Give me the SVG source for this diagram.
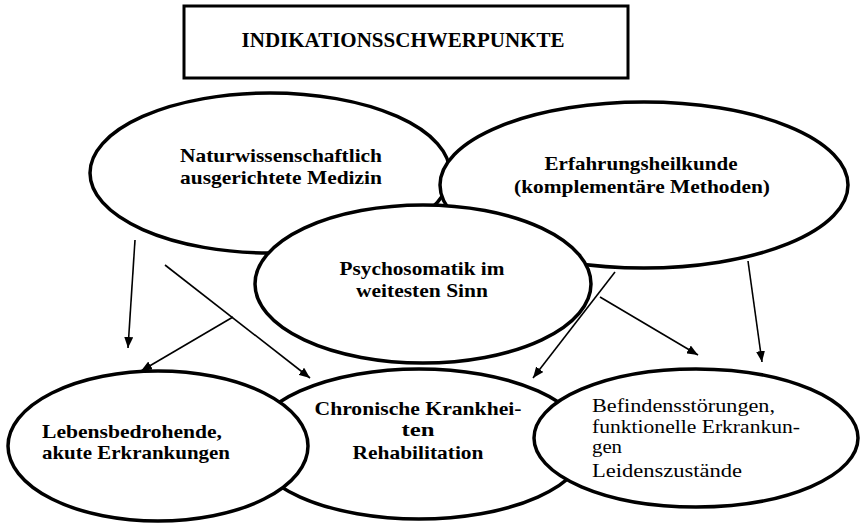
<svg xmlns="http://www.w3.org/2000/svg" width="862" height="524" viewBox="0 0 862 524">
<style>
.bg{fill:#ffffff}
.node{fill:#ffffff;stroke:#000000;stroke-width:3.5}
.box{fill:#ffffff;stroke:#000000;stroke-width:3}
.t{font-family:"Liberation Serif","Times New Roman",serif;font-size:19px;fill:#000000}
.h{font-size:21px}
.b{font-weight:bold}
.c{text-anchor:middle}
.conn{fill:none;stroke:#000000;stroke-width:1.6;marker-end:url(#ah)}
</style>
<defs>
<marker id="ah" markerUnits="userSpaceOnUse" markerWidth="11" markerHeight="9" refX="11" refY="4.5" orient="auto">
<path d="M0,0 L11,4.5 L0,9 z" fill="#000000"/>
</marker>
</defs>
<rect class="bg" x="0" y="0" width="862" height="524"/>
<g id="title">
<rect class="box" x="184" y="6" width="444" height="72"/>
<text class="t h b c" x="403" y="47">INDIKATIONSSCHWERPUNKTE</text>
</g>
<g id="naturwissenschaftlich">
<ellipse class="node" cx="270" cy="173" rx="180" ry="80"/>
<text class="t b c" x="281" y="162" textLength="202" lengthAdjust="spacingAndGlyphs">Naturwissenschaftlich</text>
<text class="t b c" x="281" y="184" textLength="202" lengthAdjust="spacingAndGlyphs">ausgerichtete Medizin</text>
</g>
<g id="erfahrungsheilkunde">
<ellipse class="node" cx="644" cy="185" rx="204" ry="83"/>
<text class="t b c" x="641" y="170" textLength="193" lengthAdjust="spacingAndGlyphs">Erfahrungsheilkunde</text>
<text class="t b c" x="642" y="193" textLength="256" lengthAdjust="spacingAndGlyphs">(komplementäre Methoden)</text>
</g>
<g id="psychosomatik">
<ellipse class="node" cx="423" cy="284" rx="168" ry="79"/>
<text class="t b c" x="422" y="275" textLength="165" lengthAdjust="spacingAndGlyphs">Psychosomatik im</text>
<text class="t b c" x="422" y="297" textLength="132" lengthAdjust="spacingAndGlyphs">weitesten Sinn</text>
</g>
<g id="chronische">
<ellipse class="node" cx="419" cy="444" rx="168" ry="75"/>
<text class="t b c" x="418" y="415" textLength="207" lengthAdjust="spacingAndGlyphs">Chronische Krankhei-</text>
<text class="t b c" x="418" y="436" textLength="33" lengthAdjust="spacingAndGlyphs">ten</text>
<text class="t b c" x="418" y="459" textLength="131" lengthAdjust="spacingAndGlyphs">Rehabilitation</text>
</g>
<g id="lebensbedrohende">
<ellipse class="node" cx="158" cy="446" rx="150" ry="75"/>
<text class="t b" x="42" y="438" textLength="180" lengthAdjust="spacingAndGlyphs">Lebensbedrohende,</text>
<text class="t b" x="42" y="459" textLength="188" lengthAdjust="spacingAndGlyphs">akute Erkrankungen</text>
</g>
<g id="befindensstoerungen">
<ellipse class="node" cx="696" cy="438" rx="162" ry="69"/>
<text class="t" x="592" y="412" textLength="183" lengthAdjust="spacingAndGlyphs">Befindensstörungen,</text>
<text class="t" x="592" y="433" textLength="208" lengthAdjust="spacingAndGlyphs">funktionelle Erkrankun-</text>
<text class="t" x="592" y="453" textLength="30" lengthAdjust="spacingAndGlyphs">gen</text>
<text class="t" x="592" y="477" textLength="150" lengthAdjust="spacingAndGlyphs">Leidenszustände</text>
</g>
<g id="connectors">
<line class="conn" x1="135" y1="240" x2="128" y2="348"/>
<line class="conn" x1="165" y1="265" x2="310" y2="378"/>
<line class="conn" x1="233" y1="317" x2="141" y2="371"/>
<line class="conn" x1="615" y1="272" x2="533" y2="378"/>
<line class="conn" x1="600" y1="297" x2="698" y2="355"/>
<line class="conn" x1="748" y1="261" x2="762" y2="362"/>
</g>
</svg>
